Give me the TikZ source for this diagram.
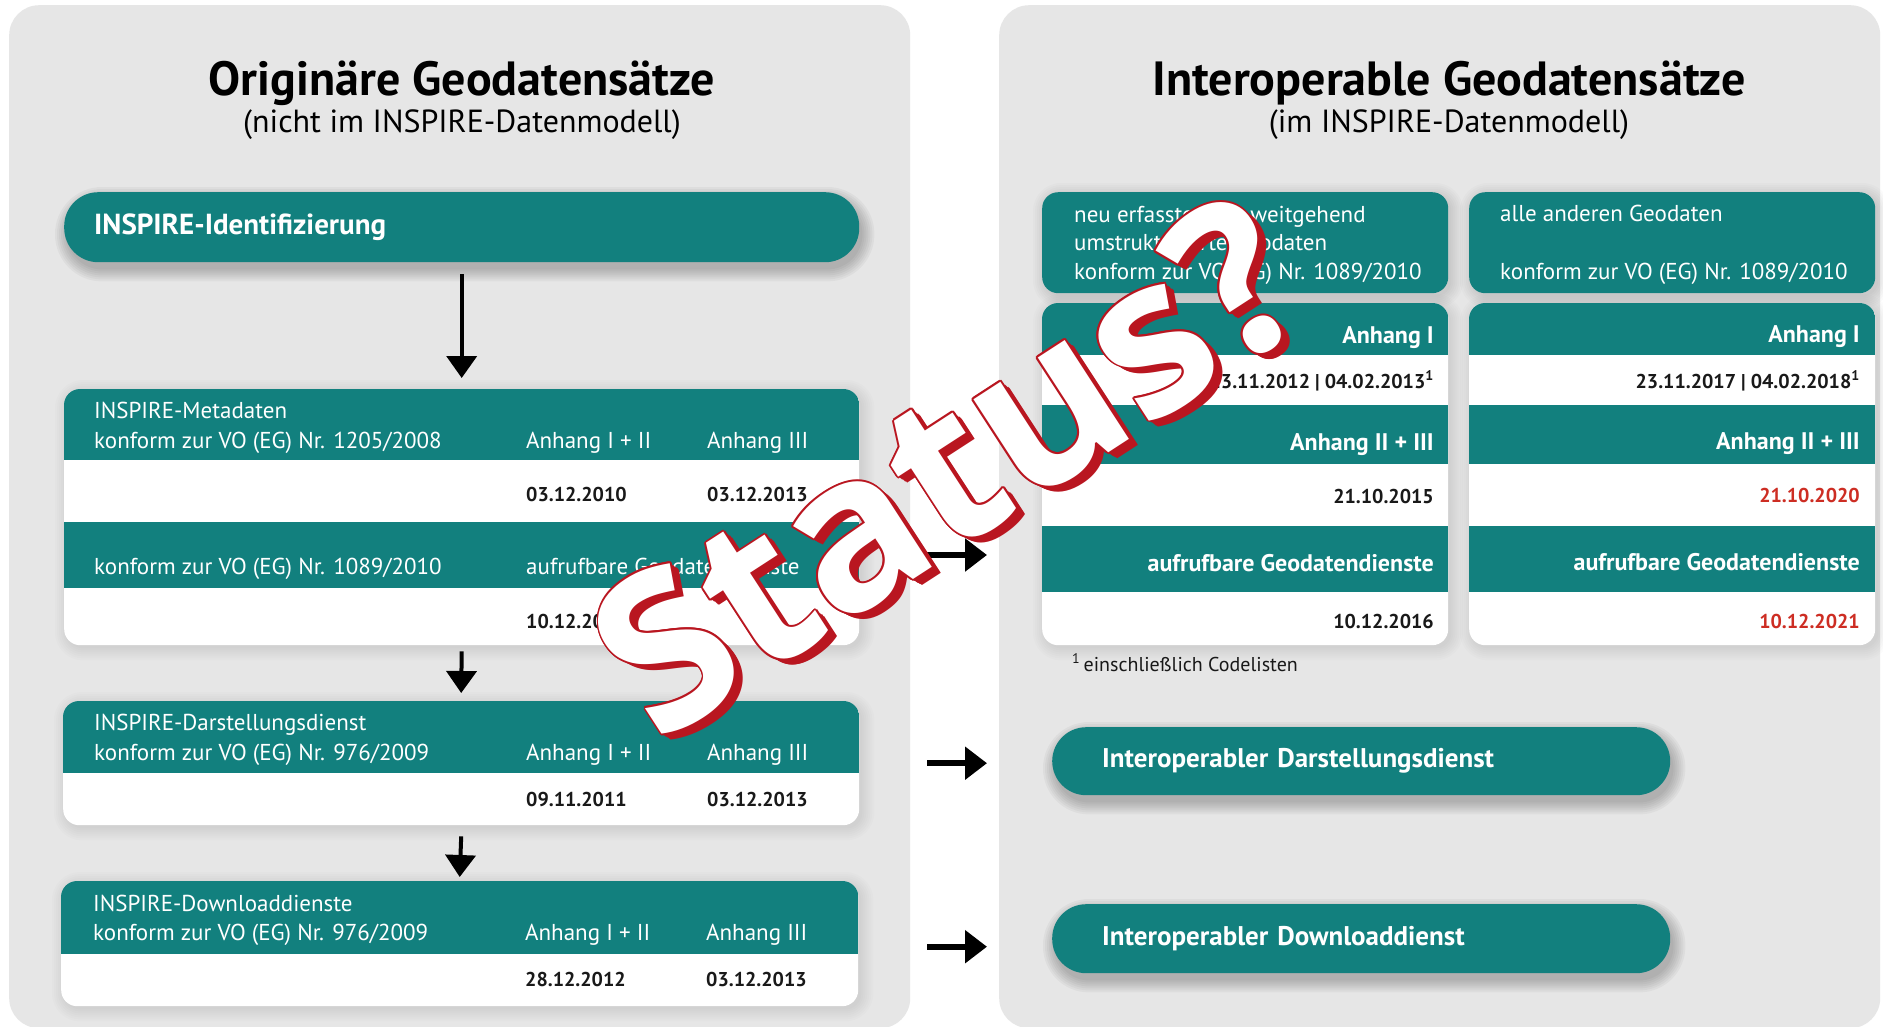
\documentclass[tikz,border=0pt]{standalone}
\usepackage{fontspec}
\setmainfont{PT Sans}
\newfontfamily\statfont{Open Sans}
\usetikzlibrary{arrows.meta}
\definecolor{tealc}{RGB}{18,128,126}
\definecolor{panelgray}{RGB}{230,230,230}
\definecolor{datered}{RGB}{205,45,35}
\definecolor{statred}{RGB}{185,22,32}
\definecolor{txt}{RGB}{25,25,25}
\pgfdeclarelayer{back}
\pgfdeclarelayer{bg}
\pgfsetlayers{back,bg,main}
\newcommand\softshadow[4]{%
  \foreach \k in {0,2,...,12}{%
    \fill[black, opacity=#3, rounded corners={(#2+\k)*1pt}]
      ([shift={(3-\k,#4-\k)}]#1.north west) rectangle ([shift={(3+\k,#4+\k)}]#1.south east);
  }}
\tikzset{
  panel/.style={fill=panelgray, rounded corners=30pt, inner sep=0pt, anchor=north west},
  ttl/.style={anchor=base, inner sep=0pt, text=black, font=\fontsize{48}{56}\selectfont\bfseries},
  sub/.style={anchor=base, inner sep=0pt, text=black, font=\fontsize{32}{38}\selectfont},
  pill/.style={fill=tealc, rounded corners=34pt, inner sep=0pt, anchor=north west, text=white,
    font=\fontsize{29}{33}\selectfont\bfseries, align=left},
  pill2/.style={pill, font=\fontsize{27}{32}\selectfont\bfseries},
  wbox/.style={fill=white, rounded corners=16pt, inner sep=0pt, anchor=north west},
  tbox/.style={fill=tealc, rounded corners=16pt, inner sep=0pt, anchor=north west},
  band/.style={fill=tealc, inner sep=0pt, outer sep=0pt, anchor=north west},
  lbl/.style={anchor=base west, inner sep=0pt, text=white, font=\fontsize{23}{27}\selectfont},
  lblr/.style={anchor=base east, inner sep=0pt, text=white, font=\fontsize{24}{28}\selectfont\bfseries},
  dte/.style={anchor=base west, inner sep=0pt, text=txt, font=\fontsize{20}{24}\selectfont\bfseries},
  dter/.style={dte, anchor=base east},
  fn/.style={anchor=base west, inner sep=0pt, text=txt, font=\fontsize{20}{24}\selectfont},
  varr/.style={line width=4pt, -{Triangle[width=30pt,length=22pt]}},
  harr/.style={line width=6pt, -{Triangle[width=32pt,length=22pt]}},
  stat/.style={rotate=33, inner sep=0pt, font=\statfont\bfseries\fontsize{216}{216}\selectfont},
}
\begin{document}
\begin{tikzpicture}[x=1pt,y=-1pt]
\useasboundingbox (0,0) rectangle (1883,1026);
\begin{pgfonlayer}{back}
  \fill[white] (0,0) rectangle (1883,1026);
  \node[panel, minimum width=901pt, minimum height=1023pt] (lpanel) at (9,5) {};
  \node[panel, minimum width=881pt, minimum height=1023pt] (rpanel) at (999,5) {};
\end{pgfonlayer}

% titles
\node[ttl] (lt) at (462,95) {Originäre Geodatensätze};
\node[sub] (ls) at (462,132) {(nicht im INSPIRE-Datenmodell)};
\node[ttl] (rt) at (1449,95) {Interoperable Geodatensätze};
\node[sub] (rs) at (1449,132) {(im INSPIRE-Datenmodell)};

% left column
\node[pill, minimum width=795pt, minimum height=70pt, text width=735pt] (ident) at (64,192) {INSPIRE-Identifizierung};

\node[wbox, minimum width=795pt, minimum height=256pt] (meta) at (64,389) {};
\begin{scope}
  \clip[rounded corners=16pt] (meta.north west) rectangle (meta.south east);
  \node[band, minimum width=795pt, minimum height=71pt] (mh1) at (64,389) {};
  \node[band, minimum width=795pt, minimum height=66pt] (mh2) at (64,522) {};
\end{scope}
\node[lbl] (m1) at (94,418) {INSPIRE-Metadaten};
\node[lbl] (m2) at (94,448) {konform zur VO (EG) Nr. 1205/2008};
\node[lbl] (m3) at (526,448) {Anhang I + II};
\node[lbl] (m4) at (707,448) {Anhang III};
\node[dte] (m5) at (526,501) {03.12.2010};
\node[dte] (m6) at (707,501) {03.12.2013};
\node[lbl] (m7) at (94,574) {konform zur VO (EG) Nr. 1089/2010};
\node[lbl] (m8) at (526,574) {aufrufbare Geodatendienste};
\node[dte] (m9) at (526,628) {10.12.2015};

\node[wbox, minimum width=796pt, minimum height=124pt] (dar) at (63,701) {};
\begin{scope}
  \clip[rounded corners=16pt] (dar.north west) rectangle (dar.south east);
  \node[band, minimum width=796pt, minimum height=72pt] (dh) at (63,701) {};
\end{scope}
\node[lbl] (d1) at (94,730) {INSPIRE-Darstellungsdienst};
\node[lbl] (d2) at (94,760) {konform zur VO (EG) Nr. 976/2009};
\node[lbl] (d3) at (526,760) {Anhang I + II};
\node[lbl] (d4) at (707,760) {Anhang III};
\node[dte] (d5) at (526,806) {09.11.2011};
\node[dte] (d6) at (707,806) {03.12.2013};

\node[wbox, minimum width=797pt, minimum height=125pt] (down) at (61,881) {};
\begin{scope}
  \clip[rounded corners=16pt] (down.north west) rectangle (down.south east);
  \node[band, minimum width=797pt, minimum height=73pt] (wh) at (61,881) {};
\end{scope}
\node[lbl] (w1) at (93,911) {INSPIRE-Downloaddienste};
\node[lbl] (w2) at (93,940) {konform zur VO (EG) Nr. 976/2009};
\node[lbl] (w3) at (525,940) {Anhang I + II};
\node[lbl] (w4) at (706,940) {Anhang III};
\node[dte] (w5) at (525,986) {28.12.2012};
\node[dte] (w6) at (706,986) {03.12.2013};

% right column
\node[tbox, minimum width=406pt, minimum height=101pt] (a1) at (1042,192) {};
\node[lbl] (a1t1) at (1074,222) {neu erfasste oder weitgehend};
\node[lbl] (a1t2) at (1074,250) {umstrukturierte Geodaten};
\node[lbl] (a1t3) at (1074,279) {konform zur VO (EG) Nr. 1089/2010};
\node[tbox, minimum width=406pt, minimum height=101pt] (b1) at (1469,192) {};
\node[lbl] (b1t1) at (1500,221) {alle anderen Geodaten};
\node[lbl] (b1t3) at (1500,279) {konform zur VO (EG) Nr. 1089/2010};

\node[wbox, minimum width=406pt, minimum height=342pt] (a2) at (1042,303) {};
\begin{scope}
  \clip[rounded corners=16pt] (a2.north west) rectangle (a2.south east);
  \node[band, minimum width=406pt, minimum height=52pt] (ah1) at (1042,303) {};
  \node[band, minimum width=406pt, minimum height=59pt] (ah2) at (1042,405) {};
  \node[band, minimum width=406pt, minimum height=66pt] (ah3) at (1042,526) {};
\end{scope}
\node[lblr] (a2t1) at (1434,343) {Anhang I};
\node[dter] (a2t2) at (1434,388) {23.11.2012 | 04.02.2013\textsuperscript{1}};
\node[lblr] (a2t3) at (1434,450) {Anhang II + III};
\node[dter] (a2t4) at (1434,503) {21.10.2015};
\node[lblr] (a2t5) at (1434,571) {aufrufbare Geodatendienste};
\node[dter] (a2t6) at (1434,628) {10.12.2016};

\node[wbox, minimum width=406pt, minimum height=342pt] (b2) at (1469,303) {};
\begin{scope}
  \clip[rounded corners=16pt] (b2.north west) rectangle (b2.south east);
  \node[band, minimum width=406pt, minimum height=52pt] (bh1) at (1469,303) {};
  \node[band, minimum width=406pt, minimum height=59pt] (bh2) at (1469,405) {};
  \node[band, minimum width=406pt, minimum height=66pt] (bh3) at (1469,526) {};
\end{scope}
\node[lblr] (b2t1) at (1860,342) {Anhang I};
\node[dter] (b2t2) at (1860,388) {23.11.2017 | 04.02.2018\textsuperscript{1}};
\node[lblr] (b2t3) at (1860,449) {Anhang II + III};
\node[dter, text=datered] (b2t4) at (1860,502) {21.10.2020};
\node[lblr] (b2t5) at (1860,570) {aufrufbare Geodatendienste};
\node[dter, text=datered] (b2t6) at (1860,628) {10.12.2021};

\node[fn] (fnote) at (1072,671) {\textsuperscript{1}\,einschließlich Codelisten};

\node[pill2, minimum width=618pt, minimum height=68pt, text width=518pt] (idar) at (1052,727) {Interoperabler Darstellungsdienst};
\node[pill2, minimum width=618pt, minimum height=69pt, text width=518pt] (idown) at (1052,904) {Interoperabler Downloaddienst};

% shadows
\begin{pgfonlayer}{bg}
  \softshadow{ident}{35}{0.035}{7}
  \softshadow{idar}{34}{0.035}{7}
  \softshadow{idown}{34}{0.035}{7}
  \softshadow{meta}{16}{0.012}{3}
  \softshadow{dar}{16}{0.012}{3}
  \softshadow{down}{16}{0.012}{3}
  \softshadow{a1}{16}{0.015}{3}
  \softshadow{b1}{16}{0.015}{3}
  \softshadow{a2}{16}{0.012}{3}
  \softshadow{b2}{16}{0.012}{3}
\end{pgfonlayer}

% arrows
\draw[varr] ([yshift=-12pt]ident.south) -- ([yshift=11pt]meta.north);
\draw[varr] ([yshift=-6pt]meta.south) -- ([yshift=8pt]dar.north);
\draw[varr] ([yshift=-11pt]dar.south) -- ([yshift=4pt]down.north);
\draw[harr] ([xshift=68pt]mh2.east) -- ([xshift=-55pt]a2.west |- mh2.east);
\draw[harr] ([xshift=68pt]dar.east) -- ([xshift=-65pt]idar.west |- dar.east);
\draw[harr] ([xshift=69pt,yshift=-3pt]down.east) -- ([xshift=-65pt,yshift=-3pt]idown.west |- down.east);

% Status overlay
\begin{scope}[shift={(947,466)}]
  \foreach \k in {1,...,11}{\node[stat, text=statred] (sd\k) at (0.8*\k,0.55*\k) {Status?};}
  \foreach \a in {0,30,...,330}{\node[stat, text=statred] (so\a) at (\a:1.7) {Status?};}
  \node[stat, text=white] (status) at (0,0) {Status?};
\end{scope}
\end{tikzpicture}
\end{document}
